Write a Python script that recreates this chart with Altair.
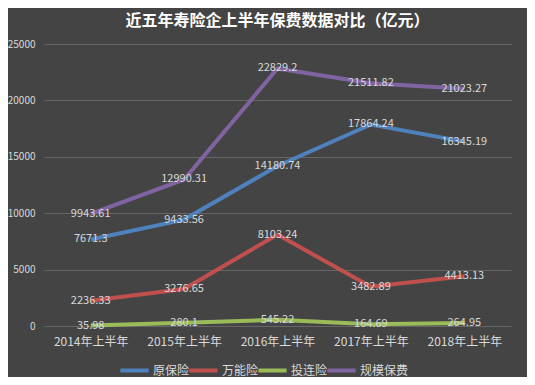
import altair as alt
import pandas as pd

years = ["2014年上半年", "2015年上半年", "2016年上半年", "2017年上半年", "2018年上半年"]
series = ["原保险", "万能险", "投连险", "规模保费"]
yuan = [7671.3, 9433.56, 14180.74, 17864.24, 16345.19]
wanneng = [2236.33, 3276.65, 8103.24, 3482.89, 4413.13]
toulian = [35.98, 280.1, 545.22, 164.69, 264.95]
guimo = [9943.61, 12990.31, 22829.2, 21511.82, 21023.27]
labels = ["7671.3", "9433.56", "14180.74", "17864.24", "16345.19",
          "2236.33", "3276.65", "8103.24", "3482.89", "4413.13",
          "35.98", "280.1", "545.22", "164.69", "264.95",
          "9943.61", "12990.31", "22829.2", "21511.82", "21023.27"]
colors = ["#4f81bd", "#c0504d", "#9bbb59", "#8064a2"]

rows = []
for s, vals in zip(series, [yuan, wanneng, toulian, guimo]):
    for y, v in zip(years, vals):
        rows.append({"year": y, "series": s, "value": v})
df = pd.DataFrame(rows)
df["label"] = labels

FONT = "Noto Sans CJK SC"
TXT = "#d9d9d9"

x = alt.X("year:O", sort=years, title=None,
          scale=alt.Scale(padding=0.5),
          axis=alt.Axis(labelAngle=0, labelColor=TXT, labelFontSize=12, labelFont=FONT,
                        domain=False, ticks=False, labelPadding=10, grid=False))
y = alt.Y("value:Q", title=None,
          scale=alt.Scale(domain=[0, 25000], nice=False),
          axis=alt.Axis(values=[0, 5000, 10000, 15000, 20000, 25000], format="d",
                        labelColor=TXT, labelFontSize=10, labelFont=FONT,
                        domain=False, ticks=False, labelPadding=9,
                        grid=True, gridColor="#666666", gridWidth=1))
color = alt.Color("series:N", sort=series,
                  scale=alt.Scale(domain=series, range=colors),
                  legend=alt.Legend(title=None, orient="none", direction="horizontal",
                                    legendX=74, legendY=310, gridAlign="none",
                                    symbolType="stroke", symbolSize=800, symbolStrokeWidth=4,
                                    labelColor=TXT, labelFontSize=12, labelFont=FONT,
                                    columnPadding=-9, labelOffset=2))

lines = alt.Chart(df).mark_line(strokeWidth=4).encode(x=x, y=y, color=color,
                                                       detail="series:N")
texts = alt.Chart(df).mark_text(color=TXT, fontSize=11, font=FONT).encode(
    x=alt.X("year:O", sort=years), y="value:Q", text="label:N")

chart = alt.layer(lines, texts).properties(
    width=467, height=282,
    title=alt.TitleParams("近五年寿险企上半年保费数据对比（亿元）", color="#ffffff",
                          fontSize=16, font=FONT, fontWeight="bold", anchor="middle", offset=10),
    background="#444444",
    autosize=alt.AutoSizeParams(type="none"),
    padding={"left": 36, "top": 36, "right": 16, "bottom": 51},
).configure_view(stroke=None)

chart.save("out.html", embed_options={"renderer": "svg", "actions": False})
